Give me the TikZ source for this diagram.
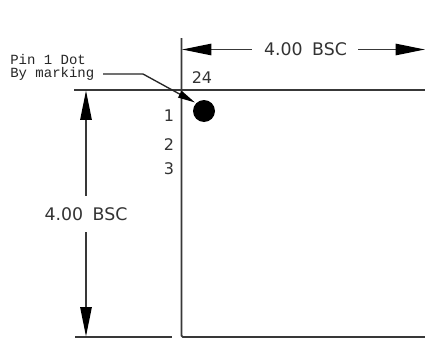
\documentclass[tikz,border=0pt]{standalone}
\usepackage{fontspec}
\setmainfont{DejaVu Sans}
\newfontfamily\cadmono{Liberation Mono}
\usetikzlibrary{arrows.meta}
\tikzset{
  line/.style={draw=black!78,line width=1.25pt},
  dimarrow/.style={line,{Triangle[length=22pt,width=8.5pt,black]}-},
  leader/.style={draw=black!85,line width=1.0pt,-{Triangle[length=13pt,width=5.5pt,black]}},
  dimtext/.style={inner sep=0pt,text=black!80,font=\fontsize{13}{14}\selectfont},
  smalltext/.style={inner sep=0pt,text=black!85,anchor=west,font=\cadmono\fontsize{10.5}{11}\selectfont},
  pintext/.style={inner sep=0pt,text=black!80,font=\fontsize{12}{13}\selectfont}
}
\begin{document}
\begin{tikzpicture}[x=0.75pt,y=-0.75pt]
\useasboundingbox (0,0) rectangle (425,339);
\fill[white] (0,0) rectangle (425,339);
% coordinates
\coordinate (vtop) at (181.5,38);
\coordinate (corner) at (181.5,337);
\coordinate (bright) at (425,337);
\coordinate (tl) at (74,90);
\coordinate (tr) at (425,90);
\coordinate (bl) at (75,337);
\coordinate (br) at (172,337);
\coordinate (vdimtop) at (86,90.5);
\coordinate (vdimbot) at (86,336.5);
\coordinate (hdiml) at (182,49.5);
\coordinate (hdimr) at (425,49.5);
\coordinate (ldstart) at (103,74);
\coordinate (ldbend) at (143,74);
% outline
\draw[line,rounded corners=1pt] (vtop) -- (corner) -- (bright);
\draw[line] (tl) -- (tr);
\draw[line] (bl) -- (br);
% texts
\node[dimtext] (hlabel) at (305.5,49.5) {4.00\hspace{0.55em}BSC};
\node[dimtext] (vlabel) at (86,214) {4.00\hspace{0.55em}BSC};
\node[smalltext] (pinA) at (10,59) {Pin 1 Dot};
\node[smalltext] (pinB) at (10,74) {By marking};
\node[pintext] (p24) at (202,78) {24};
\node[pintext] (p1) at (169,116) {1};
\node[pintext] (p2) at (169,145) {2};
\node[pintext] (p3) at (169,168.5) {3};
\fill[black] (204,111) circle[radius=11] node (dot) {};
% dimensions
\coordinate (hL) at (252,49.5);
\coordinate (hR) at (358,49.5);
\coordinate (vT) at (86,196);
\coordinate (vB) at (86,232);
\draw[dimarrow] (hdiml) -- (hL);
\draw[dimarrow] (hdimr) -- (hR);
\draw[dimarrow] (vdimtop) -- (vT);
\draw[dimarrow] (vdimbot) -- (vB);
% leader
\coordinate (ldtip) at (195,102.5);
\draw[leader] (ldstart) -- (ldbend) -- (ldtip);
\end{tikzpicture}
\end{document}
